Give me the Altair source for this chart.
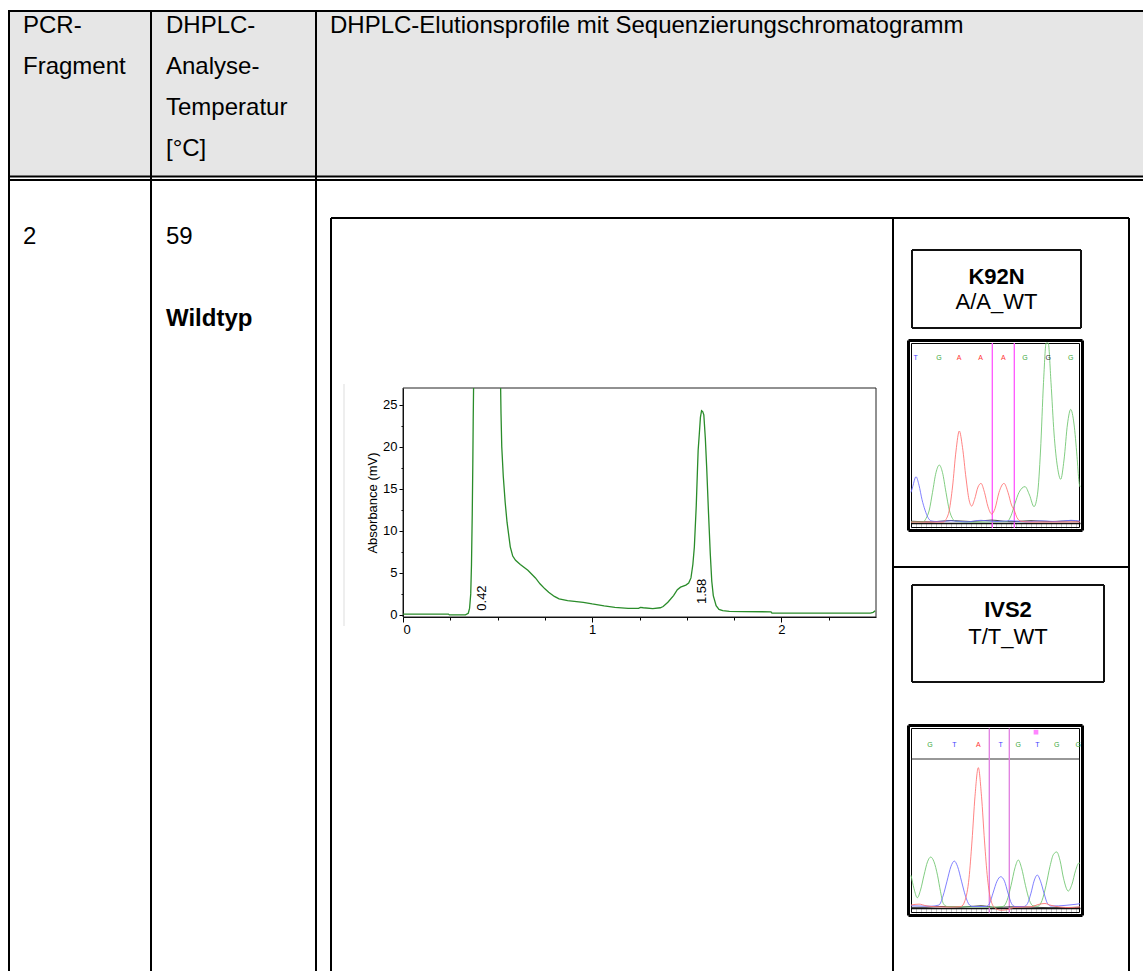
import altair as alt
import pandas as pd

# ------------------------------------------------------------------ data
header_pcr = ["PCR-", "Fragment"]
header_temp = ["DHPLC-", "Analyse-", "Temperatur", "\u00a0[°C]"]
header_profile = ["DHPLC-Elutionsprofile mit Sequenzierungschromatogramm"]
row_fragment = ["2"]
row_temp = ["59"]
row_type = ["Wildtyp"]
mutation_names = ["K92N", "IVS2"]
mutation_genotypes = ["A/A_WT", "T/T_WT"]

# DHPLC elution profile: retention time [min] / absorbance [mV]
front_rt = [0.00, 0.10, 0.20, 0.24, 0.245, 0.33, 0.345, 0.352, 0.358, 0.362, 0.366, 0.369, 0.371, 0.373]
front_mv = [0.10, 0.10, 0.10, 0.10, 0.00, 0.00, 0.20, 0.80, 2.50, 6.0, 12.0, 18.0, 23.0, 27.0]
tail_rt = [0.516, 0.518, 0.522, 0.53, 0.54, 0.55, 0.567, 0.58, 0.595, 0.62, 0.66, 0.70, 0.724, 0.75,
           0.77, 0.80, 0.825, 0.87, 0.953, 1.00, 1.063, 1.12, 1.19, 1.245, 1.255, 1.27, 1.32, 1.36,
           1.375, 1.40, 1.43, 1.45, 1.467, 1.495, 1.51, 1.522, 1.532, 1.54, 1.55, 1.556, 1.56, 1.566,
           1.572, 1.578, 1.584, 1.59, 1.598, 1.605, 1.615, 1.624, 1.632, 1.64, 1.655, 1.67, 1.69,
           1.725, 1.80, 1.945, 1.95, 2.10, 2.30, 2.47, 2.485, 2.496]
tail_mv = [27.0, 24.0, 20.0, 16.5, 13.4, 11.0, 8.1, 7.0, 6.5, 6.0, 5.3, 4.4, 3.7, 3.1,
           2.7, 2.2, 1.9, 1.7, 1.5, 1.3, 1.07, 0.9, 0.78, 0.78, 0.9, 0.85, 0.74, 0.85,
           1.0, 1.5, 2.3, 3.0, 3.3, 3.55, 3.8, 4.4, 6.0, 8.1, 13.0, 17.0, 19.6, 21.5,
           23.5, 24.3, 24.2, 23.8, 21.0, 17.6, 12.0, 7.3, 4.0, 2.3, 1.1, 0.66, 0.5,
           0.41, 0.38, 0.37, 0.2, 0.2, 0.2, 0.2, 0.3, 0.5]
peak_rt = [0.42, 1.58]
peak_text = ["0.42", "1.58"]
peak_text_mv = [0.5, 1.3]
rt_ticks = [0, 1, 2]
rt_minor = [0.25, 0.5, 0.75, 1.25, 1.5, 1.75, 2.25]
mv_ticks = [0, 5, 10, 15, 20, 25]
mv_minor = [2.5, 7.5, 12.5, 17.5, 22.5]

# Sequencing chromatograms: (scan position, relative signal)
k92n_blue = [(0, 17), (1.7, 20.2), (5, 25.7), (8, 21), (11, 13), (14, 7.2), (17, 3), (20, 1.2), (26, 0.8),
             (40, 1.2), (55, 0.6), (70, 1.5), (85, 0.8), (100, 1.3), (115, 0.6), (130, 1.2), (145, 0.8),
             (160, 1.5), (169, 1)]
k92n_green = [(0, 0.6), (12, 0.6), (15, 2.5), (18.3, 7.2), (21.5, 17), (25, 28), (28.3, 32.2), (31.5, 28),
              (35, 17), (38.3, 7.2), (41.5, 2.5), (45, 0.8), (60, 0.5), (80, 0.6), (96, 0.8), (100, 4),
              (104, 10.9), (108, 17), (114, 20.2), (118.5, 15.5), (123, 9.1), (126.5, 16), (129.5, 40),
              (132.5, 78), (135.2, 100), (137.2, 100), (140, 78), (143, 50), (146.5, 31), (149.7, 24.3),
              (153, 35), (156.5, 55), (159.7, 63.1), (163, 55), (166, 37), (168, 23), (169, 20)]
k92n_red = [(0, 0.5), (32, 0.5), (35, 2), (38.3, 7.2), (41.5, 20), (45, 40), (48.3, 51.1), (51.5, 42),
            (55, 25), (58, 13), (60.7, 9.4), (63.5, 13), (67, 20), (70, 22), (73.5, 17), (77, 9),
            (80.7, 5), (84, 8), (88, 17), (93, 22), (97, 17), (100.5, 10), (103.3, 7), (106, 3),
            (110, 1), (120, 0.5), (169, 0.6)]
k92n_black = [(0, 1), (20, 0.6), (40, 1.4), (60, 0.8), (80, 1.6), (100, 0.7), (120, 1.3), (140, 0.8),
              (160, 1.2), (169, 0.8)]
k92n_bases = ["T", "G", "A", "A", "A", "G", "G", "G"]
k92n_base_pos = [4.7, 28, 48, 69.7, 92.3, 114, 137.3, 159.7]
k92n_base_col = ["blue", "green", "red", "red", "red", "green", "black", "green"]
k92n_marks = [81.3, 103.3]

ivs2_green = [(0, 22), (3, 13), (6.3, 6.9), (9.5, 12), (13, 22), (16.5, 31), (19.7, 34.2), (23, 31),
              (26.5, 22), (29.5, 11), (32.3, 3), (36, 1), (50, 0.8), (80, 0.6), (92, 1), (96, 5),
              (100, 15), (104, 27), (107.3, 32.2), (110.5, 27), (114.5, 15), (118.5, 5), (122, 1.5),
              (127, 1.2), (131, 5), (135, 15), (139, 28), (142.5, 36), (145.7, 37.6), (149, 32),
              (152.5, 20), (157.3, 11.4), (161, 16), (164.5, 25), (168, 30.2), (169, 30)]
ivs2_blue = [(0, 1.5), (20, 1.2), (28, 2), (32, 8), (36, 18), (40, 28), (43.3, 31.5), (46.5, 28),
             (50.5, 18), (54.5, 8), (58.5, 2), (62, 1), (75, 1), (78.5, 3), (82, 10), (86, 18),
             (89.7, 21), (93.5, 18), (97, 10), (100.5, 3), (104, 1), (113, 1), (116.5, 3), (120, 10),
             (123, 18), (126.3, 22.1), (129.5, 18), (133, 10), (136.5, 3), (140, 1.3), (155, 1.8),
             (165, 2.5), (169, 2.9)]
ivs2_red = [(0, 2), (8, 2.6), (15, 1.5), (25, 0.8), (40, 0.6), (50, 1), (54, 5), (58, 20), (61, 45),
            (64, 75), (67.3, 94.2), (70.5, 75), (73.5, 45), (76.5, 20), (80, 5), (84, 0), (90, -1.5),
            (97, -1), (104, 0.5), (120, 0.8), (128, 2.5), (134, 3), (140, 1.8), (150, 0.6), (160, 0.3),
            (169, 0.8)]
ivs2_black = [(0, 0.4), (15, 0.5), (30, 1), (50, 0.6), (70, 1.5), (85, 0.4), (100, 0.8), (120, 0.6),
              (140, 0.2), (169, 0.5)]
ivs2_bases = ["G", "T", "A", "T", "G", "T", "G", "G"]
ivs2_base_pos = [19, 43.3, 67.3, 89.7, 107.3, 126.3, 145.7, 167.3]
ivs2_base_col = ["green", "blue", "red", "blue", "green", "blue", "green", "green"]
ivs2_marks = [78.3, 98.3]
ivs2_flag_pos = [125]

# ------------------------------------------------------------------ layout / style
W, H = 1143, 971
FONT = "Liberation Sans"
FS = 24
L = dict(left=9, col1=151, col2=316, right=1143, top=11, hdr1=176.5, hdr2=180, bottom=990,
         bx0=331, bx1=1129, by0=218, divx=893, divy=567)
HDR_BASE = [33, 74, 115, 156]
BODY_BASE = [244, 326]
CHROM_X = [403, 876]
CHROM_Y = [617, 388]
CHROM_DOM_X = [0, 2.5]
CHROM_DOM_Y = [-0.25, 27]
SEQ_COLORS = {"green": "#6cc46c", "blue": "#6a6aff", "red": "#ff6e6e", "black": "#222222"}
LETTER_COLORS = {"green": "#3aa83a", "blue": "#4444ff", "red": "#ff3333", "black": "#333333"}
PANELS = {
    "K92N": dict(x0=911, x1=1080, base=523, top=343, outer=(908.5, 340.5, 1082.5, 530.5),
                 inner=(911.5, 343.5, 1079.5, 527.5), letter_v=91.7, mark_lo=-2.8, mark_hi=100,
                 mark_col="#ff55ff"),
    "IVS2": dict(x0=911, x1=1080, base=908, top=759, outer=(908.5, 725.5, 1082.5, 915.5),
                 inner=(911.5, 728.5, 1079.5, 912.5), letter_v=109.4, mark_lo=-3.2, mark_hi=120.5,
                 mark_col="#e07ee0"),
}
LABEL_BOX = {"K92N": (912, 250, 1081, 328, 996.5, [284, 309]),
             "IVS2": (912, 585, 1104, 682, 1008, [617, 644])}

layers = []

# header background
hdr_bg = pd.DataFrame([dict(x=L["left"], x2=L["right"], y=L["top"], y2=L["hdr1"])])
layers.append(alt.Chart(hdr_bg).mark_rect(fill="#e6e6e6").encode(
    x=alt.X("x:Q", scale=None, axis=None), x2="x2:Q",
    y=alt.Y("y:Q", scale=None, axis=None), y2="y2:Q"))

# table and frame lines
rows = []
def hline(x0, x1, y, w=2.0, c="#000000"):
    rows.append(dict(x=x0, x2=x1, y=y, y2=y, w=w, c=c))
def vline(x, y0, y1, w=2.0, c="#000000"):
    rows.append(dict(x=x, x2=x, y=y0, y2=y1, w=w, c=c))
def rect(x0, y0, x1, y1, w=2.0, c="#000000"):
    hline(x0, x1, y0, w, c); hline(x0, x1, y1, w, c); vline(x0, y0, y1, w, c); vline(x1, y0, y1, w, c)

hline(L["left"], L["right"], L["top"])
hline(L["left"], L["right"], L["hdr1"])
hline(L["left"], L["right"], L["hdr2"])
for xx in (L["left"], L["col1"], L["col2"]):
    vline(xx, L["top"] - 1, L["bottom"])
vline(L["bx0"], L["by0"], L["bottom"])
vline(L["bx1"], L["by0"], L["bottom"])
hline(L["bx0"], L["bx1"], L["by0"])
vline(L["divx"], L["by0"], L["bottom"])
hline(L["divx"], L["bx1"], L["divy"])
for k, (x0, y0, x1, y1, cx, bl) in LABEL_BOX.items():
    rect(x0, y0, x1, y1, 2.0, "#111111")
for k, p in PANELS.items():
    rect(*p["outer"], 3.0, "#000000")
    rect(*p["inner"], 1.0, "#000000")
hline(911.5, 1079.5, 759, 1.2, "#333333")
# chromatogram frame and faint picture edge
rect(CHROM_X[0], CHROM_Y[1], CHROM_X[1], CHROM_Y[0], 1.0, "#222222")
vline(344, 384, 626, 1.0, "#dddddd")
lines_df = pd.DataFrame(rows)
layers.append(alt.Chart(lines_df).mark_rule().encode(
    x=alt.X("x:Q", scale=None, axis=None), x2="x2:Q",
    y=alt.Y("y:Q", scale=None, axis=None), y2="y2:Q",
    strokeWidth=alt.StrokeWidth("w:Q", scale=None),
    color=alt.Color("c:N", scale=None)))

# table text
txt = []
for i, t in enumerate(header_pcr):
    txt.append(dict(t=t, x=23, y=HDR_BASE[i]))
for i, t in enumerate(header_temp):
    txt.append(dict(t=t, x=166, y=HDR_BASE[i]))
for i, t in enumerate(header_profile):
    txt.append(dict(t=t, x=330, y=HDR_BASE[i]))
txt.append(dict(t=row_fragment[0], x=23, y=BODY_BASE[0]))
txt.append(dict(t=row_temp[0], x=166, y=BODY_BASE[0]))
layers.append(alt.Chart(pd.DataFrame(txt)).mark_text(
    font=FONT, fontSize=FS, align="left", baseline="alphabetic", color="#000000").encode(
    x=alt.X("x:Q", scale=None, axis=None), y=alt.Y("y:Q", scale=None, axis=None), text="t:N"))
layers.append(alt.Chart(pd.DataFrame([dict(t=row_type[0], x=166, y=BODY_BASE[1])])).mark_text(
    font=FONT, fontSize=FS, fontWeight="bold", align="left", baseline="alphabetic", color="#000000").encode(
    x=alt.X("x:Q", scale=None, axis=None), y=alt.Y("y:Q", scale=None, axis=None), text="t:N"))

bold_rows, norm_rows = [], []
for name, geno in zip(mutation_names, mutation_genotypes):
    x0, y0, x1, y1, cx, bl = LABEL_BOX[name]
    bold_rows.append(dict(t=name, x=cx, y=bl[0]))
    norm_rows.append(dict(t=geno, x=cx, y=bl[1]))
layers.append(alt.Chart(pd.DataFrame(bold_rows)).mark_text(
    font=FONT, fontSize=FS - 2, fontWeight="bold", align="center", baseline="alphabetic", color="#000").encode(
    x=alt.X("x:Q", scale=None, axis=None), y=alt.Y("y:Q", scale=None, axis=None), text="t:N"))
layers.append(alt.Chart(pd.DataFrame(norm_rows)).mark_text(
    font=FONT, fontSize=FS - 2, align="center", baseline="alphabetic", color="#000").encode(
    x=alt.X("x:Q", scale=None, axis=None), y=alt.Y("y:Q", scale=None, axis=None), text="t:N"))

# ------------------------------------------------------------------ DHPLC chromatogram
cx_scale = alt.Scale(domain=CHROM_DOM_X, range=CHROM_X, nice=False, zero=False)
cy_scale = alt.Scale(domain=CHROM_DOM_Y, range=CHROM_Y, nice=False, zero=False)
trace = pd.DataFrame(
    [dict(rt=r, mv=m, seg="front") for r, m in zip(front_rt, front_mv)] +
    [dict(rt=r, mv=m, seg="tail") for r, m in zip(tail_rt, tail_mv)])
ax_common = dict(labelFont=FONT, labelFontSize=13, labelColor="#000", domainColor="#000",
                 tickColor="#000", grid=False)
layers.append(alt.Chart(trace).mark_line(color="#2a8c2a", strokeWidth=1.3).encode(
    x=alt.X("rt:Q", scale=cx_scale,
            axis=alt.Axis(orient="bottom", offset=CHROM_Y[0] - H, values=rt_ticks, tickSize=5,
                          labelPadding=1, title=None, format="d", **ax_common)),
    y=alt.Y("mv:Q", scale=cy_scale,
            axis=alt.Axis(orient="left", offset=-CHROM_X[0], values=mv_ticks, tickSize=4,
                          labelPadding=2, title="Absorbance (mV)", titleFont=FONT, titleFontSize=13,
                          titleFontWeight="normal", titleColor="#000", titlePadding=3, **ax_common)),
    detail="seg:N"))
# minor ticks
minor_df = pd.DataFrame(dict(rt=rt_minor[:5], mv=mv_minor))
layers.append(alt.Chart(minor_df).mark_point(opacity=0).encode(
    x=alt.X("rt:Q", scale=cx_scale,
            axis=alt.Axis(orient="bottom", offset=CHROM_Y[0] - H, values=rt_minor, tickSize=3,
                          labels=False, domain=False, title=None, tickColor="#000", grid=False)),
    y=alt.Y("mv:Q", scale=cy_scale,
            axis=alt.Axis(orient="left", offset=-CHROM_X[0], values=mv_minor, tickSize=2,
                          labels=False, domain=False, title=None, tickColor="#000", grid=False))))
peaks = pd.DataFrame(dict(rt=peak_rt, mv=peak_text_mv, t=peak_text))
layers.append(alt.Chart(peaks).mark_text(
    font=FONT, fontSize=13, angle=270, align="left", baseline="middle", color="#000").encode(
    x=alt.X("rt:Q", scale=cx_scale, axis=None),
    y=alt.Y("mv:Q", scale=cy_scale, axis=None), text="t:N"))

# ------------------------------------------------------------------ sequencing chromatograms
def seq_layers(name, traces, bases, base_pos, base_col, marks, flags=None):
    p = PANELS[name]
    xs = alt.Scale(domain=[0, 169], range=[p["x0"], p["x1"]], nice=False, zero=False)
    ys = alt.Scale(domain=[0, 100], range=[p["base"], p["top"]], nice=False, zero=False)
    out = []
    recs = []
    for ch, pts in traces.items():
        for s, v in pts:
            recs.append(dict(s=s, v=v, ch=ch, col=SEQ_COLORS[ch]))
    df = pd.DataFrame(recs)
    mk = pd.DataFrame(dict(s=marks, lo=[p["mark_lo"]] * len(marks), hi=[p["mark_hi"]] * len(marks)))
    out.append(alt.Chart(mk).mark_rule(color=p["mark_col"], strokeWidth=1.3).encode(
        x=alt.X("s:Q", scale=xs, axis=None), y=alt.Y("lo:Q", scale=ys, axis=None), y2="hi:Q"))
    out.append(alt.Chart(df).mark_line(strokeWidth=1, interpolate="monotone", opacity=0.85).encode(
        x=alt.X("s:Q", scale=xs,
                axis=alt.Axis(orient="bottom", offset=p["base"] - H, labels=False, tickSize=5,
                              tickColor="#c4c4c4", domainColor="#111111", domainWidth=1.5,
                              tickCount=45, grid=False, title=None)),
        y=alt.Y("v:Q", scale=ys, axis=None),
        color=alt.Color("col:N", scale=None), detail="ch:N"))
    lt = pd.DataFrame(dict(s=base_pos, v=[p["letter_v"]] * len(bases), t=bases,
                           col=[LETTER_COLORS[c] for c in base_col]))
    out.append(alt.Chart(lt).mark_text(font=FONT, fontSize=7, baseline="middle").encode(
        x=alt.X("s:Q", scale=xs, axis=None), y=alt.Y("v:Q", scale=ys, axis=None),
        text="t:N", color=alt.Color("col:N", scale=None)))
    if flags:
        fl = pd.DataFrame(dict(s=flags, v=[p["letter_v"] + 8.6] * len(flags)))
        out.append(alt.Chart(fl).mark_square(color="#ff66ff", size=22, opacity=0.8).encode(
            x=alt.X("s:Q", scale=xs, axis=None), y=alt.Y("v:Q", scale=ys, axis=None)))
    return out

layers += seq_layers("K92N", {"black": k92n_black, "green": k92n_green, "blue": k92n_blue, "red": k92n_red},
                     k92n_bases, k92n_base_pos, k92n_base_col, k92n_marks)
layers += seq_layers("IVS2", {"black": ivs2_black, "green": ivs2_green, "blue": ivs2_blue, "red": ivs2_red},
                     ivs2_bases, ivs2_base_pos, ivs2_base_col, ivs2_marks, ivs2_flag_pos)

chart = alt.layer(*layers).resolve_scale(x="independent", y="independent").properties(
    width=W, height=H, padding=0, autosize=alt.AutoSizeParams(type="none"), background="white"
).configure_view(strokeWidth=0)

chart.save("out.html", embed_options={"renderer": "svg", "actions": False})
